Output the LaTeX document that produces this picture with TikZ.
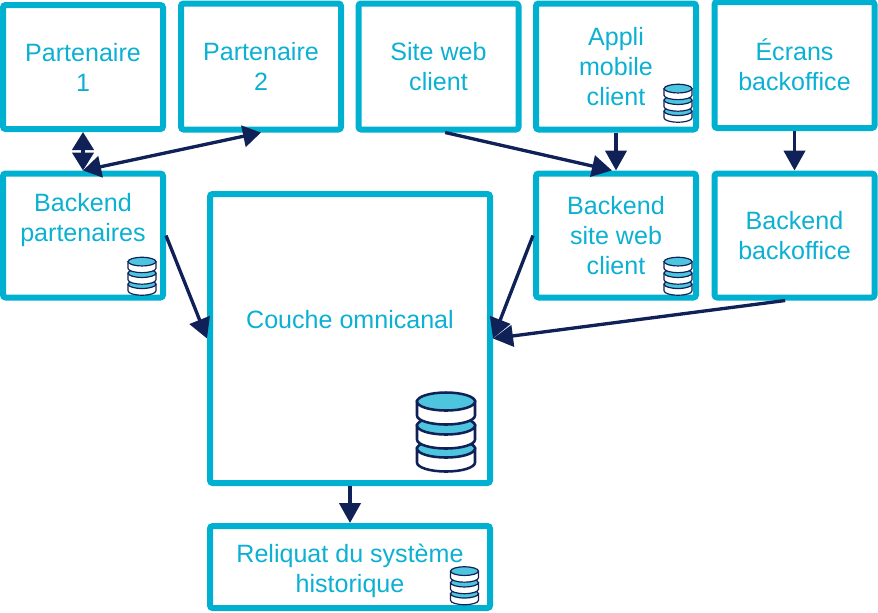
\documentclass[tikz,border=0pt]{standalone}
\usepackage{fontspec}
\setmainfont{Liberation Sans}
\usetikzlibrary{arrows.meta}
\definecolor{boxcyan}{HTML}{00B0D0}
\definecolor{labelcyan}{HTML}{0BB0D2}
\definecolor{discblue}{HTML}{4DC5DE}
\definecolor{arrownavy}{HTML}{0F2157}
\tikzset{
  box/.style={draw=boxcyan,line width=4.5pt,rounded corners=2pt,minimum width=120pt,minimum height=93pt,
    text=labelcyan,align=center,font=\fontsize{18.8}{22.5}\selectfont,inner sep=0pt},
  link/.style={line width=2.5pt,arrownavy,-{Triangle[length=15pt,width=16pt]}},
  linkboth/.style={line width=2.5pt,arrownavy,{Triangle[length=13.5pt,width=16pt]}-{Triangle[length=13.5pt,width=16pt]}},
  dbicon/.pic={
    \foreach \dy in {47,24,0}{
      \draw[arrownavy,fill=white] (-29,\dy-30) -- (-29,\dy-16) arc[start angle=180,end angle=0,x radius=29,y radius=9] -- (29,\dy-30) -- cycle;
      \draw[arrownavy,fill=discblue] (0,\dy-30) ellipse[x radius=29,y radius=9];
    }
  }
}
\begin{document}
\begin{tikzpicture}[x=.75pt,y=-.75pt]
  \useasboundingbox (0,0) rectangle (878,612);
  \node[box] (part1) at (83,67) {Partenaire\\1};
  \node[box,minimum height=94.5pt] (part2) at (261,66.5) {Partenaire\\2};
  \node[box,minimum height=94.5pt] (site) at (438.5,66.5) {Site web\\client};
  \node[box,minimum height=94.5pt] (appli) at (616,66.5) {Appli\\mobile\\client};
  \node[box,minimum height=94.5pt] (ecrans) at (794.5,65) {Écrans\\backoffice};
  \node[box,text depth=27.5pt] (bpart) at (83,235.5) {Backend\\partenaires};
  \node[box] (bsite) at (616,235.5) {Backend\\site web\\client};
  \node[box] (bback) at (794.5,235.5) {Backend\\backoffice};
  \node[box,minimum width=210pt,minimum height=216.75pt,text depth=29pt] (omni) at (350,338.5) {Couche omnicanal};
  \node[box,minimum width=210pt,minimum height=61.5pt,text height=42pt] (reliq) at (350,567) {Reliquat du système\\historique};
  % stacked discs
  \pic[line width=1.9pt] at (446,431.5) {dbicon};
  \pic[scale=.48,line width=.9pt] at (678,103) {dbicon};
  \pic[scale=.48,line width=.9pt] at (142,276) {dbicon};
  \pic[scale=.48,line width=.9pt] at (678,276) {dbicon};
  \pic[scale=.48,line width=.9pt] at (464.5,585.5) {dbicon};
  % arrows
  \draw[linkboth] (part1.south) -- (bpart.north);
  \draw[linkboth] (bpart.north) -- (part2.south);
  \draw[link] ([xshift=5pt]site.south) -- ([xshift=-3pt]bsite.north);
  \draw[link] (appli.south) -- (bsite.north);
  \draw[link] (ecrans.south) -- (bback.north);
  \draw[link] (bpart.east) -- (omni.west);
  \draw[link] (bsite.west) -- (omni.east);
  \draw[link] ([xshift=-7pt]bback.south) -- (omni.east);
  \draw[link] (omni.south) -- (reliq.north);
\end{tikzpicture}
\end{document}
